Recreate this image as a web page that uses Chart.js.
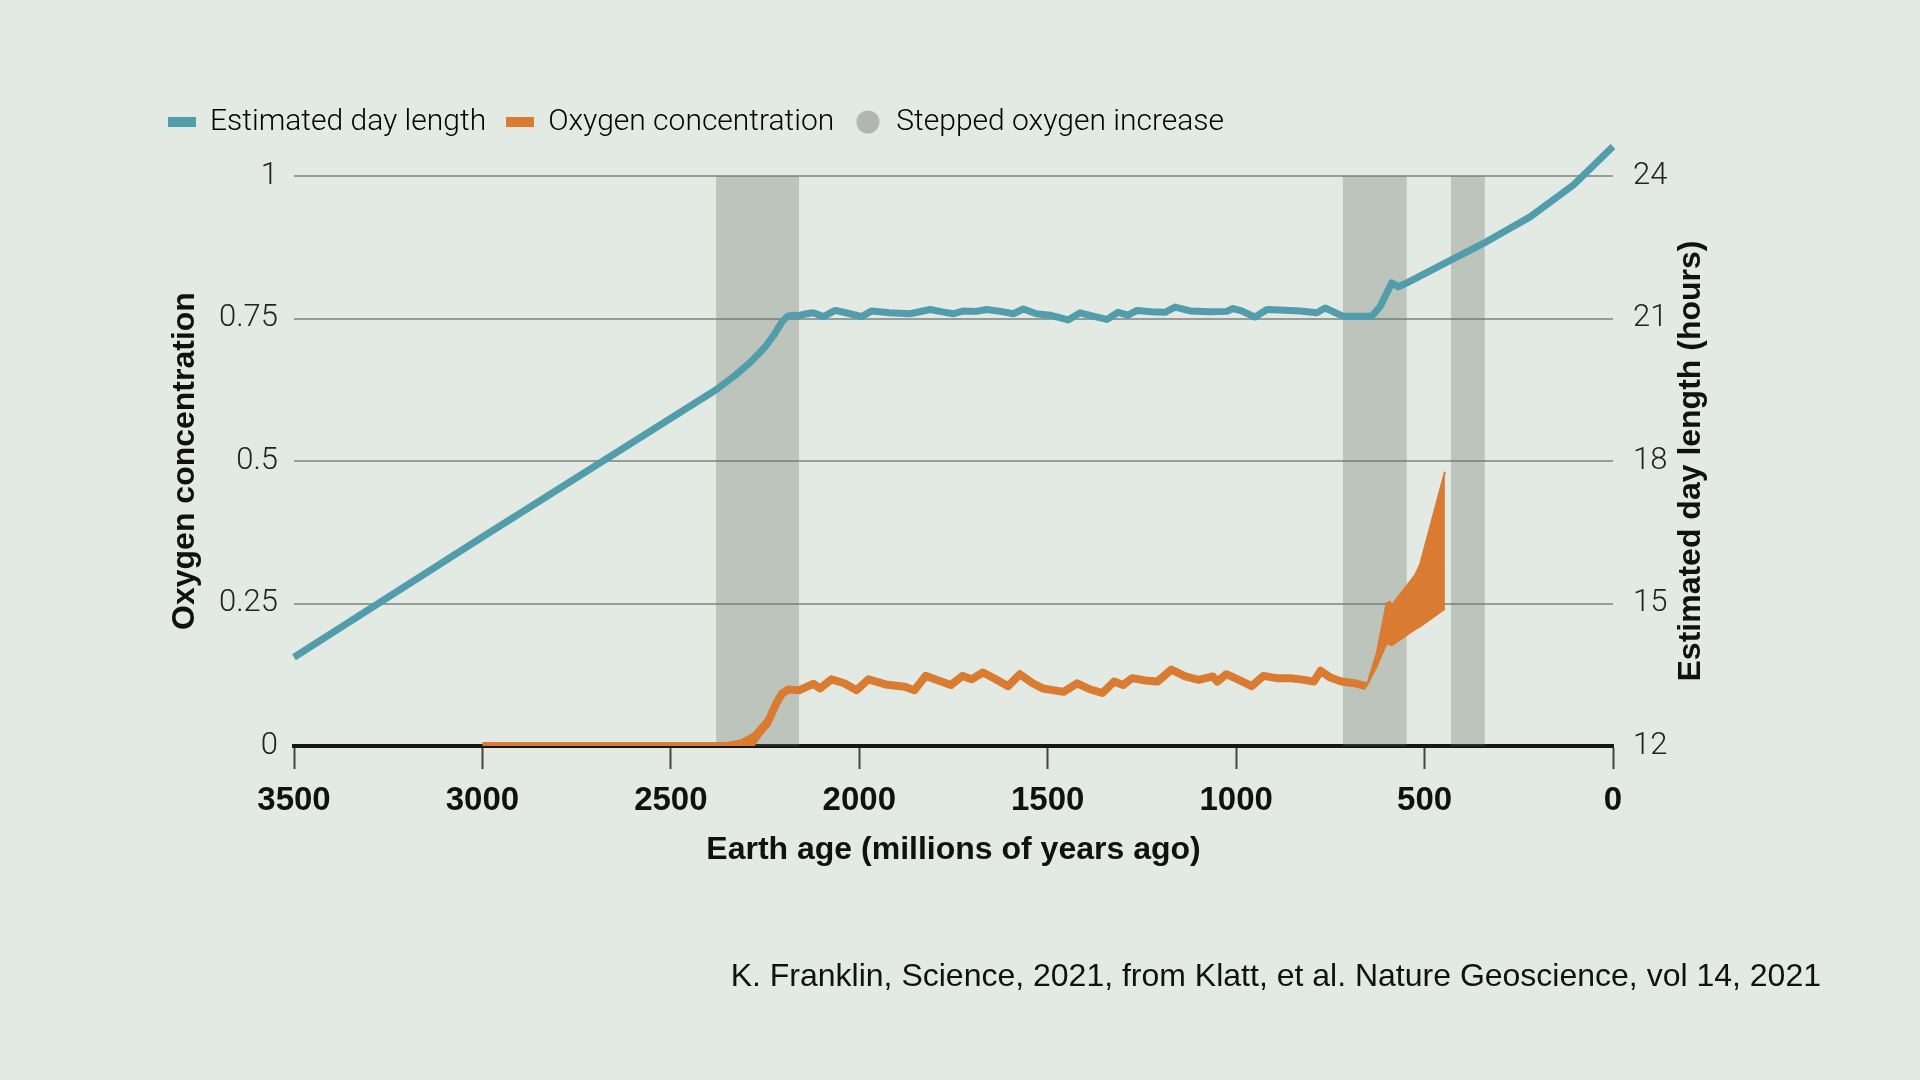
<!DOCTYPE html>
<html>
<head>
<meta charset="utf-8">
<title>Day length and oxygen</title>
<script src="https://cdn.jsdelivr.net/npm/chart.js@4.4.1/dist/chart.umd.min.js"></script>
<style>
  html, body { margin: 0; padding: 0; background: #e3e9e3; }
  #wrap { width: 1920px; height: 1080px; position: relative; }
</style>
</head>
<body>
<div id="wrap"><canvas id="myChart"></canvas></div>
<script>
// Estimated day length (hours)
const dayAge = [3500, 3000, 2500, 2380, 2330, 2290, 2250, 2225, 2205, 2190, 2175, 2162, 2140, 2122, 2095, 2064,
    2030, 1994, 1967, 1920, 1865, 1812, 1780, 1750, 1724, 1690, 1662, 1625, 1591, 1565, 1530, 1494, 1446, 1414,
    1380, 1343, 1313, 1287, 1263, 1225, 1189, 1162, 1122, 1070, 1025, 1008, 985, 950, 918, 884, 830, 786, 764,
    717, 640, 618, 587, 570, 552, 433, 335, 220, 105, 0];
const dayHours = [13.87, 16.4, 18.9, 19.5, 19.8, 20.07, 20.4, 20.67, 20.93, 21.05, 21.07, 21.06, 21.1, 21.12, 21.04, 21.17,
    21.11, 21.04, 21.16, 21.12, 21.1, 21.19, 21.14, 21.1, 21.16, 21.15, 21.19, 21.15, 21.1, 21.2, 21.1, 21.07, 20.97, 21.12,
    21.05, 20.98, 21.13, 21.07, 21.17, 21.14, 21.13, 21.24, 21.16, 21.14, 21.15, 21.21, 21.16, 21.03, 21.19, 21.18, 21.16, 21.12, 21.22,
    21.05, 21.05, 21.25, 21.75, 21.67, 21.73, 22.22, 22.62, 23.14, 23.81, 24.62];

// Oxygen concentration (main line)
const oxyAge = [3000, 2354, 2317, 2281, 2244, 2220, 2205, 2189, 2159, 2122, 2104, 2074, 2040, 2007, 1976, 1930,
    1879, 1854, 1824, 1790, 1757, 1726, 1702, 1672, 1640, 1605, 1574, 1540, 1513, 1458, 1422, 1390, 1355, 1324,
    1300, 1276, 1240, 1209, 1172, 1135, 1099, 1062, 1050, 1026, 990, 959, 928, 892, 855, 820, 794, 776, 750,
    721, 685, 654];
const oxyValue = [0, 0, 0.004, 0.012, 0.04, 0.075, 0.092, 0.099, 0.098, 0.109, 0.101, 0.117, 0.11, 0.098, 0.117, 0.108,
    0.104, 0.098, 0.123, 0.115, 0.107, 0.123, 0.117, 0.129, 0.118, 0.105, 0.126, 0.11, 0.101, 0.095, 0.11, 0.1, 0.093, 0.113,
    0.107, 0.119, 0.115, 0.113, 0.134, 0.122, 0.116, 0.122, 0.113, 0.126, 0.115, 0.105, 0.123, 0.119, 0.119, 0.116, 0.113, 0.132, 0.12,
    0.113, 0.11, 0.105];

// Oxygen uncertainty ranges (first rise and last rise)
const earlyAge = [2340, 2317, 2281, 2244, 2214, 2196];
const earlyUpper = [0, 0.008, 0.022, 0.05, 0.088, 0.099];
const earlyLower = [0, 0, 0, 0.035, 0.08, 0.097];
const lateAge = [654, 627, 601, 592, 587, 525, 512, 446];
const lateUpper = [0.105, 0.162, 0.25, 0.253, 0.247, 0.3, 0.318, 0.481];
const lateLower = [0.105, 0.14, 0.18, 0.178, 0.177, 0.205, 0.21, 0.241];

// Stepped oxygen increase (millions of years ago)
const stepStart = [2380, 717, 430];
const stepEnd = [2160, 547, 340];

const xTicks = [3500, 3000, 2500, 2000, 1500, 1000, 500, 0];
const legendNames = ['Estimated day length', 'Oxygen concentration', 'Stepped oxygen increase'];
const xTitle = 'Earth age (millions of years ago)';
const leftTitle = 'Oxygen concentration';
const rightTitle = 'Estimated day length (hours)';
const sourceText = 'K. Franklin, Science, 2021, from Klatt, et al. Nature Geoscience, vol 14, 2021';

const BLUE = '#529dab';
const ORANGE = '#d97b30';
const BAND = 'rgba(100,112,100,0.3)';
const sans = '"Liberation Sans", Arial, sans-serif';

function pts(xs, ys) {
    return xs.map((x, i) => ({ x: x, y: ys[i] }));
}

// small pictures for the legend markers
function barMarker(color) {
    const c = document.createElement('canvas');
    c.width = 28; c.height = 10;
    const g = c.getContext('2d');
    g.fillStyle = color;
    g.fillRect(0, 0, 28, 10);
    return c;
}
function dotMarker(color) {
    const c = document.createElement('canvas');
    c.width = 24; c.height = 24;
    const g = c.getContext('2d');
    g.fillStyle = color;
    g.beginPath();
    g.arc(12, 12, 11.5, 0, Math.PI * 2);
    g.fill();
    return c;
}
const markers = [barMarker(BLUE), barMarker(ORANGE), dotMarker('#b1b6b0')];

const datasets = [
    {
        label: legendNames[0], data: pts(dayAge, dayHours), yAxisID: 'y2', xAxisID: 'x',
        borderColor: BLUE, borderWidth: 7, borderJoinStyle: 'round', pointRadius: 0, clip: false
    },
    {
        label: legendNames[1], data: pts(oxyAge, oxyValue), yAxisID: 'y', xAxisID: 'x',
        borderColor: ORANGE, borderWidth: 8, borderJoinStyle: 'round', pointRadius: 0
    },
    {
        label: 'early upper', data: pts(earlyAge, earlyUpper), yAxisID: 'y', xAxisID: 'x',
        borderColor: ORANGE, borderWidth: 2, pointRadius: 0, fill: '+1', backgroundColor: ORANGE
    },
    {
        label: 'early lower', data: pts(earlyAge, earlyLower), yAxisID: 'y', xAxisID: 'x',
        borderColor: ORANGE, borderWidth: 2, pointRadius: 0
    },
    {
        label: 'late upper', data: pts(lateAge, lateUpper), yAxisID: 'y', xAxisID: 'x',
        borderColor: ORANGE, borderWidth: 2, pointRadius: 0, fill: '+1', backgroundColor: ORANGE
    },
    {
        label: 'late lower', data: pts(lateAge, lateLower), yAxisID: 'y', xAxisID: 'x',
        borderColor: ORANGE, borderWidth: 2, pointRadius: 0
    }
];

// grey bands, filled from 1 down to 0
stepStart.forEach((s, i) => {
    datasets.push({
        label: legendNames[2], data: [{ x: s, y: 1 }, { x: stepEnd[i], y: 1 }], yAxisID: 'y', xAxisID: 'x',
        borderWidth: 0, borderColor: 'rgba(0,0,0,0)', pointRadius: 0, fill: 'origin', backgroundColor: BAND
    });
});

// right axis title reads bottom-to-top, plus the source line
const extraText = {
    id: 'extraText',
    afterDraw(chart) {
        const ctx = chart.ctx;
        const area = chart.chartArea;
        ctx.save();
        ctx.fillStyle = '#111';
        ctx.font = 'bold 32px ' + sans;
        ctx.textAlign = 'center';
        ctx.textBaseline = 'middle';
        ctx.translate(area.right + 78, (area.top + area.bottom) / 2);
        ctx.rotate(-Math.PI / 2);
        ctx.fillText(rightTitle, 0, 0);
        ctx.restore();

        ctx.save();
        ctx.fillStyle = '#111';
        ctx.font = '32px ' + sans;
        ctx.textAlign = 'right';
        ctx.textBaseline = 'middle';
        ctx.fillText(sourceText, chart.width - 99, 977);
        ctx.restore();
    }
};

const plain = (v) => String(v);

const ctx = document.getElementById('myChart').getContext('2d');
new Chart(ctx, {
    type: 'line',
    data: { datasets: datasets },
    plugins: [extraText],
    options: {
        responsive: true,
        maintainAspectRatio: false,
        animation: false,
        events: [],
        layout: { padding: { left: 148, right: 100, top: 87, bottom: 204 } },
        plugins: {
            tooltip: { enabled: false },
            legend: {
                position: 'top',
                align: 'start',
                labels: {
                    usePointStyle: true,
                    pointStyleWidth: 27,
                    padding: 20,
                    color: '#333',
                    font: { family: 'Roboto', size: 30, weight: 300 },
                    generateLabels: () => legendNames.map((name, i) => ({
                        text: name,
                        pointStyle: markers[i],
                        fillStyle: 'rgba(0,0,0,0)',
                        strokeStyle: 'rgba(0,0,0,0)',
                        lineWidth: 0,
                        hidden: false,
                        datasetIndex: i
                    }))
                }
            }
        },
        scales: {
            x: {
                type: 'linear', position: 'bottom', min: 0, max: 3500, reverse: true,
                afterBuildTicks: (s) => { s.ticks = xTicks.map(v => ({ value: v })); },
                ticks: { color: '#111', padding: 12, callback: plain, font: { family: sans, size: 33, weight: 'bold' } },
                grid: { drawOnChartArea: false, drawTicks: true, tickLength: 23, tickWidth: 2, tickColor: '#444' },
                border: { color: '#161616', width: 4 },
                title: { display: true, text: xTitle, color: '#111', font: { family: sans, size: 32, weight: 'bold' }, padding: { top: 0, bottom: 7 } },
                afterFit: (s) => { s.height = 130; }
            },
            gap: {
                type: 'linear', axis: 'x', position: 'top', min: 0, max: 1,
                ticks: { display: false }, grid: { display: false }, border: { display: false },
                afterFit: (s) => { s.height = 29; }
            },
            y: {
                type: 'linear', position: 'left', min: 0, max: 1,
                ticks: { stepSize: 0.25, color: '#222', padding: 16, callback: plain, font: { family: 'Roboto', size: 31, weight: 300 } },
                grid: { color: '#979d96', lineWidth: 2, drawTicks: false },
                border: { display: false },
                title: { display: true, text: leftTitle, color: '#111', font: { family: sans, size: 32, weight: 'bold' }, padding: { top: 18, bottom: 0 } },
                afterFit: (s) => { s.width = 146; }
            },
            y2: {
                type: 'linear', position: 'right', min: 12, max: 24,
                ticks: { stepSize: 3, color: '#222', padding: 12, callback: plain, font: { family: 'Roboto', size: 31, weight: 300 } },
                grid: { display: false },
                border: { display: false },
                afterFit: (s) => { s.width = 207; }
            }
        }
    }
});
</script>
</body>
</html>
